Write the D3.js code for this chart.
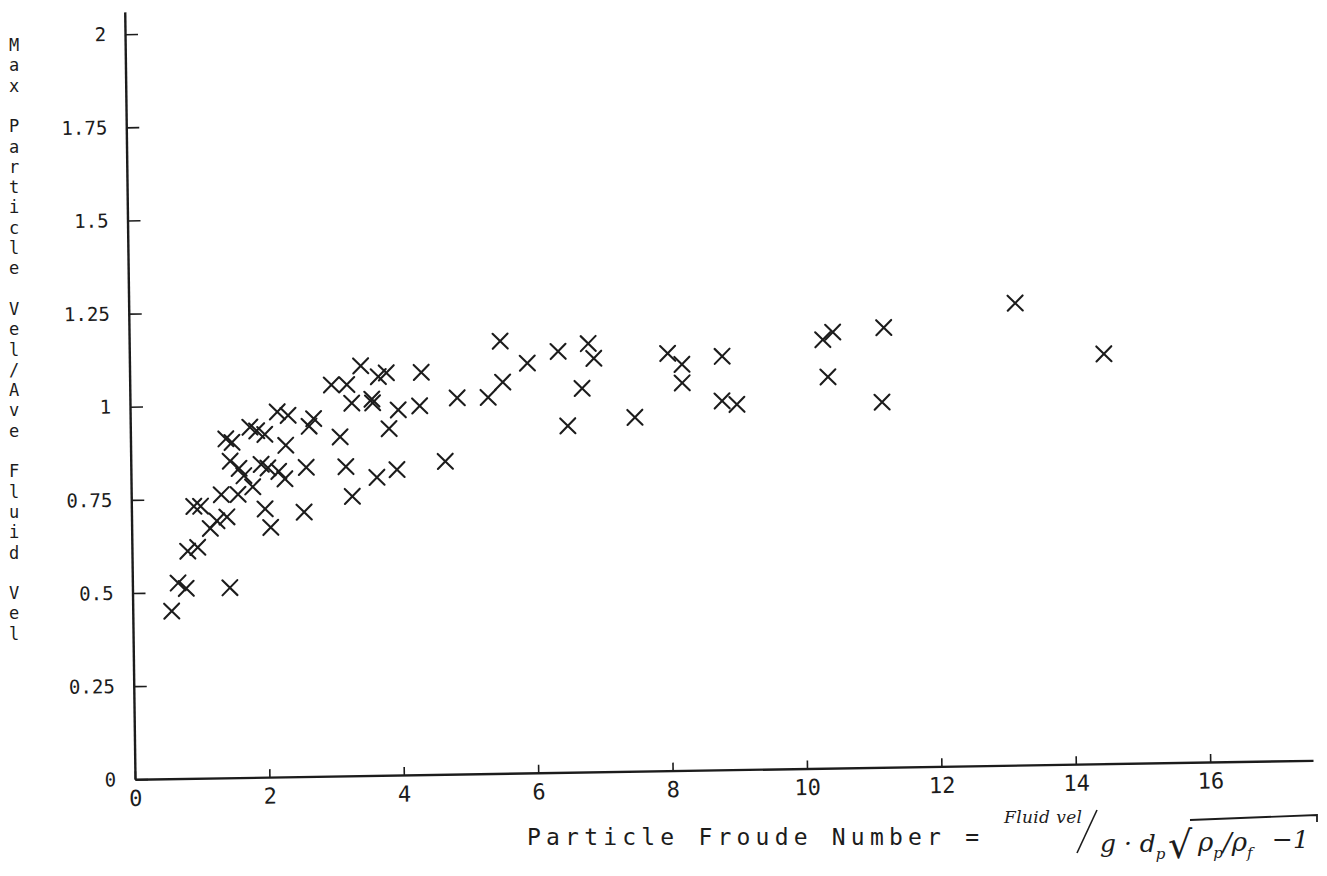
<!DOCTYPE html>
<html>
<head>
<meta charset="utf-8">
<script src="https://cdn.jsdelivr.net/npm/d3@7"></script>
<style>
  html, body { margin: 0; padding: 0; background: #fff; }
  svg { display: block; }
  .plot-text { font-family: "DejaVu Sans Mono", "Liberation Mono", monospace; fill: #1c1c1c; }
  .hand { font-family: "DejaVu Serif", "Liberation Serif", serif; font-style: italic; fill: #1c1c1c; }
</style>
</head>
<body>
<div id="chart"></div>
<script>
// Particle Froude number (x) vs max particle vel / ave fluid vel (y)
const froude = [
  0.58, 0.68, 0.80, 0.83, 0.93, 0.98, 1.03, 1.17, 1.27, 1.34,
  1.42, 1.42, 1.45, 1.48, 1.51, 1.59, 1.61, 1.68, 1.78, 1.81,
  1.88, 1.94, 1.99, 2.00, 2.04, 2.07, 2.19, 2.20, 2.29, 2.31,
  2.35, 2.57, 2.61, 2.66, 2.73, 3.00, 3.12, 3.20, 3.23, 3.29,
  3.30, 3.44, 3.60, 3.61, 3.66, 3.70, 3.82, 3.85, 3.96, 3.99,
  4.31, 4.34, 4.68, 4.87, 5.33, 5.52, 5.55, 5.92, 6.38, 6.51,
  6.73, 6.83, 6.91, 7.51, 8.01, 8.22, 8.22, 8.81, 8.82, 9.03,
  10.32, 10.39, 10.47, 11.19, 11.23, 13.19, 14.50
];
const velRatio = [
  0.45, 0.525, 0.51, 0.61, 0.73, 0.62, 0.73, 0.67, 0.69, 0.76,
  0.70, 0.91, 0.51, 0.85, 0.90, 0.76, 0.83, 0.81, 0.94, 0.78,
  0.93, 0.84, 0.72, 0.92, 0.83, 0.67, 0.98, 0.82, 0.80, 0.89,
  0.97, 0.71, 0.83, 0.94, 0.96, 1.05, 0.91, 0.83, 1.05, 0.75,
  1.00, 1.10, 1.01, 1.00, 0.80, 1.07, 1.08, 0.93, 0.82, 0.98,
  0.99, 1.08, 0.84, 1.01, 1.01, 1.16, 1.05, 1.10, 1.13, 0.93,
  1.03, 1.15, 1.11, 0.95, 1.12, 1.09, 1.04, 0.99, 1.11, 0.98,
  1.15, 1.05, 1.17, 0.98, 1.18, 1.24, 1.10
];
const xTickValues = [0, 2, 4, 6, 8, 10, 12, 14, 16];
const yTickValues = [0, 0.25, 0.5, 0.75, 1, 1.25, 1.5, 1.75, 2];
const yTitle = 'Max Particle Vel/Ave Fluid Vel';
const xTitle = 'Particle Froude Number =';

const Chart = {
  width: 1327,
  height: 876,
  origin: { x: 135, y: 779.3 },
  ink: '#1c1c1c',

  render() {
    const svg = d3.select('#chart').append('svg')
      .attr('width', this.width)
      .attr('height', this.height);

    // the plot is a scan, slightly skewed: keep that with a small shear
    const plot = svg.append('g')
      .attr('transform', `matrix(1,-0.0161,0.0134,1,${this.origin.x},${this.origin.y})`);

    const x = d3.scaleLinear().domain([0, 17.53]).range([0, 1178]);
    const y = d3.scaleLinear().domain([0, 2.06]).range([0, -767.4]);

    // Y axis, ticks pointing inward
    plot.append('g')
      .call(d3.axisLeft(y).tickValues(yTickValues).tickFormat(d => String(d))
        .tickSizeInner(-13).tickSizeOuter(0).tickPadding(19))
      .call(g => this.styleAxis(g, 19));

    // X axis
    plot.append('g')
      .call(d3.axisBottom(x).tickValues(xTickValues).tickFormat(d => String(d))
        .tickSizeInner(-8).tickSizeOuter(0).tickPadding(11))
      .call(g => this.styleAxis(g, 22));

    // crosses
    const r = 7.5;
    plot.append('g')
      .selectAll('path')
      .data(froude.map((f, i) => [f, velRatio[i]]))
      .join('path')
      .attr('d', d => {
        const cx = x(d[0]), cy = y(d[1]);
        return `M${cx - r},${cy - r}L${cx + r},${cy + r}M${cx - r},${cy + r}L${cx + r},${cy - r}`;
      })
      .attr('fill', 'none')
      .attr('stroke', this.ink)
      .attr('stroke-width', 2.1)
      .attr('stroke-linecap', 'round');

    // Y title: letters stacked upright
    svg.append('g')
      .selectAll('text')
      .data(yTitle.split(''))
      .join('text')
      .attr('class', 'plot-text')
      .attr('x', 14)
      .attr('y', (d, i) => 45 + i * 20.3)
      .attr('font-size', 17)
      .attr('text-anchor', 'middle')
      .attr('dominant-baseline', 'central')
      .text(d => d);

    // X title, plotter part
    svg.append('text')
      .attr('class', 'plot-text')
      .attr('x', 527).attr('y', 845)
      .attr('font-size', 23)
      .attr('textLength', 452)
      .attr('lengthAdjust', 'spacing')
      .text(xTitle);

    // X title, handwritten formula
    const hand = svg.append('g').attr('class', 'hand');
    hand.append('text').attr('x', 1004).attr('y', 823).attr('font-size', 17)
      .attr('textLength', 78).text('Fluid vel');
    hand.append('path')
      .attr('d', 'M1077,853L1097,810')
      .attr('fill', 'none').attr('stroke', this.ink).attr('stroke-width', 1.6);
    const gd = hand.append('text').attr('x', 1100).attr('y', 852).attr('font-size', 25);
    gd.append('tspan').text('g · d');
    gd.append('tspan').attr('dy', 7).attr('font-size', 15).text('p');
    hand.append('text').attr('x', 1168).attr('y', 858).attr('font-size', 38)
      .style('font-style', 'normal').style('font-weight', 300).text('√');
    const rho = hand.append('text').attr('x', 1198).attr('y', 851).attr('font-size', 26);
    rho.append('tspan').text('ρ');
    rho.append('tspan').attr('dy', 7).attr('font-size', 15).text('p');
    rho.append('tspan').attr('dy', -7).text('/ρ');
    rho.append('tspan').attr('dy', 7).attr('font-size', 15).text('f');
    hand.append('text').attr('x', 1272).attr('y', 848).attr('font-size', 25).text('−1');
    hand.append('path')
      .attr('d', 'M1190,820L1317,815L1317,822')
      .attr('fill', 'none')
      .attr('stroke', this.ink)
      .attr('stroke-width', 1.8);
  },

  styleAxis(g, fontSize) {
    g.attr('font-family', null).attr('font-size', null);
    g.select('.domain').attr('stroke', this.ink).attr('stroke-width', 2.4);
    g.selectAll('.tick line').attr('stroke', this.ink).attr('stroke-width', 1.6);
    g.selectAll('.tick text')
      .attr('class', 'plot-text')
      .attr('font-size', fontSize);
  }
};

Chart.render();
</script>
</body>
</html>
